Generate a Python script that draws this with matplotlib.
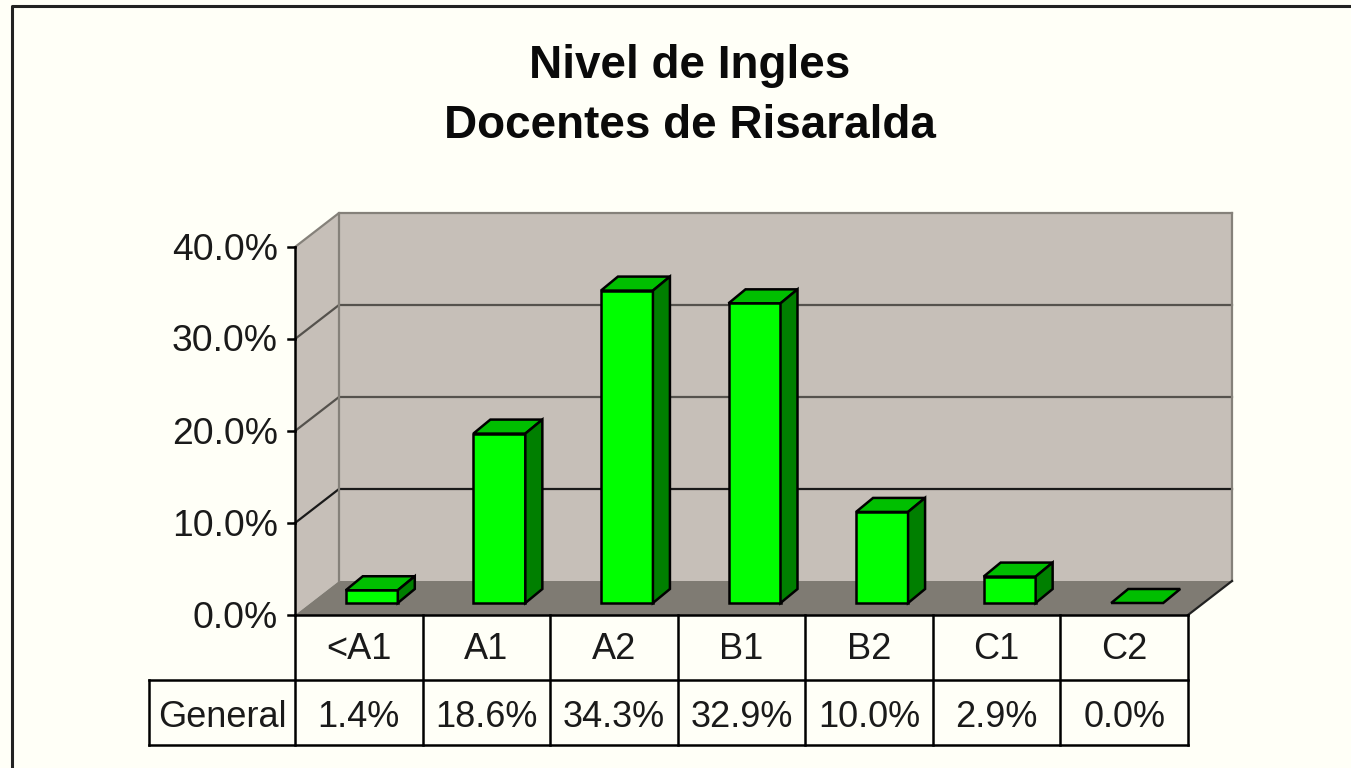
import matplotlib
matplotlib.use("Agg")
from matplotlib import pyplot as plt
from matplotlib.lines import Line2D
from matplotlib.patches import Polygon

categories = ["<A1", "A1", "A2", "B1", "B2", "C1", "C2"]
values = [1.4, 18.6, 34.3, 32.9, 10.0, 2.9, 0.0]
value_labels = ["1.4%", "18.6%", "34.3%", "32.9%", "10.0%", "2.9%", "0.0%"]
y_ticks = [0, 10, 20, 30, 40]
y_tick_labels = ["0.0%", "10.0%", "20.0%", "30.0%", "40.0%"]
series_name = "General"

W, H = 1351, 768
BG = "#FFFFF7"
WALL = "#C6BFB8"
FLOOR = "#7F7B73"
EDGE = "#85817A"

plt.rcParams["font.family"] = ["Liberation Sans", "DejaVu Sans"]

fig = plt.figure(figsize=(W / 100, H / 100), dpi=100, facecolor=BG)

left, right, top, bottom = 295, 1188, 247, 615
ax = fig.add_axes([left / W, 1 - bottom / H, (right - left) / W, (bottom - top) / H])
ax.set_xlim(0, len(categories))
ax.set_ylim(0, 40)
ax.axis("off")

# pixel sizes in data units
px = len(categories) / (right - left)
py = 40 / (bottom - top)
depth_x, depth_y = 44 * px, 34 * py


def poly(points, color, edge="none", lw=1.8, z=1):
    ax.add_patch(Polygon(points, closed=True, facecolor=color, edgecolor=edge,
                         linewidth=lw, zorder=z, clip_on=False, joinstyle="miter"))


def line(xs, ys, color="black", lw=1.8, z=6):
    ax.add_line(Line2D(xs, ys, color=color, linewidth=lw, zorder=z, clip_on=False,
                       solid_capstyle="projecting"))


n = len(categories)

# walls and floor
poly([(0, 0), (depth_x, depth_y), (depth_x, 40 + depth_y), (0, 40)], WALL)
poly([(depth_x, depth_y), (n + depth_x, depth_y), (n + depth_x, 40 + depth_y),
      (depth_x, 40 + depth_y)], WALL)
poly([(0, 0), (n, 0), (n + depth_x, depth_y), (depth_x, depth_y)], FLOOR)

# gridlines on side and back walls
for t in y_ticks[1:]:
    c = "#1A1A1A" if t == 10 else "#55524D"
    if t == 40:
        c = EDGE
    line([0, depth_x, n + depth_x], [t, t + depth_y, t + depth_y], color=c, lw=1.6, z=2)
line([depth_x, depth_x], [depth_y, 40 + depth_y], color=EDGE, lw=1.6, z=2)
line([n + depth_x, n + depth_x], [depth_y, 40 + depth_y], color=EDGE, lw=1.6, z=2)
line([n, n + depth_x], [0, depth_y], color="#222222", lw=1.6, z=2)

# bars, a touch shorter than the axis scale like in the reference
bar_scale = 0.99
bar_w = 52 * px
off_x, off_y = 13 * px, 12 * py
bar_dx, bar_dy = 17 * px, 14 * py
for i, v in enumerate(values):
    x0 = i + 0.5 - bar_w / 2 + off_x
    x1 = x0 + bar_w
    y0 = off_y
    y1 = y0 + v * bar_scale
    z = 3 + i * 0.01
    poly([(x0, y1), (x1, y1), (x1 + bar_dx, y1 + bar_dy), (x0 + bar_dx, y1 + bar_dy)],
         "#00BF00", "black", z=z)
    if v > 0:
        poly([(x0, y0), (x1, y0), (x1, y1), (x0, y1)], "#00FF00", "black", z=z)
        poly([(x1, y0), (x1 + bar_dx, y0 + bar_dy), (x1 + bar_dx, y1 + bar_dy), (x1, y1)],
             "#007F00", "black", z=z)

# y axis
line([0, 0], [0, 40])
for t, lab in zip(y_ticks, y_tick_labels):
    line([-7 * px, 0], [t, t])
    ax.text(-17 * px, t - 3 * py, lab, ha="right", va="center", fontsize=26.8, color="#1A1A1A")

# data table under the plot
row1, row2 = -65 * py, -130 * py
first_col = -146 * px
line([0, n], [0, 0])
line([first_col, n], [row1, row1])
line([first_col, n], [row2, row2])
line([first_col, first_col], [row1, row2])
for i in range(n + 1):
    line([i, i], [0, row2])
for i, (c, lab) in enumerate(zip(categories, value_labels)):
    ax.text(i + 0.5, row1 / 2 - 2 * py, c, ha="center", va="center", fontsize=26, color="#1A1A1A")
    ax.text(i + 0.5, (row1 + row2) / 2 - 5 * py, lab, ha="center", va="center", fontsize=26,
            color="#1A1A1A")
ax.text(first_col / 2, (row1 + row2) / 2 - 5 * py, series_name, ha="center", va="center",
        fontsize=26, color="#1A1A1A")

# title
fig.text(690 / W, 1 - 66 / H, "Nivel de Ingles", ha="center", va="center",
         fontsize=33, fontweight="bold", color="#0A0A0A")
fig.text(690 / W, 1 - 126 / H, "Docentes de Risaralda", ha="center", va="center",
         fontsize=33, fontweight="bold", color="#0A0A0A")

# outer frame, only left and top are in the crop
fig.add_artist(Line2D([12 / W, 12 / W, 1], [0, 1 - 6 / H, 1 - 6 / H], color="#222222",
                      linewidth=2.2, transform=fig.transFigure))

fig.savefig("out.png", dpi=100, facecolor=BG)
